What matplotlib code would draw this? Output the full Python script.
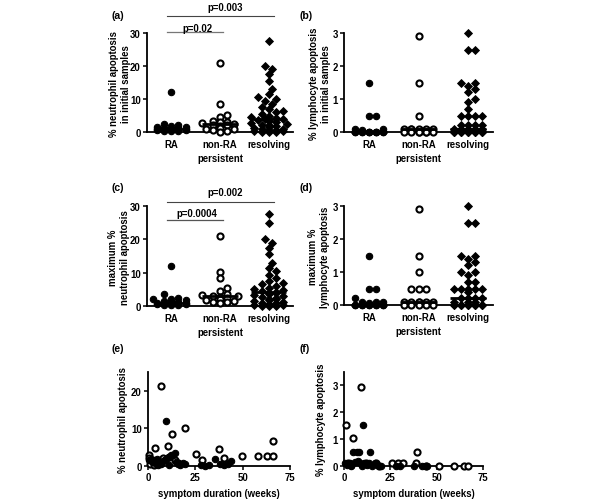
import matplotlib
matplotlib.use('Agg')
import matplotlib.pyplot as plt
import numpy as np

plt.rcParams['font.family'] = ['Liberation Sans', 'DejaVu Sans']
plt.rcParams['font.weight'] = 'bold'

# ---- data -------------------------------------------------------------
groups = ['RA', 'non-RA\npersistent', 'resolving']

# (a) % neutrophil apoptosis, initial samples
ra_neut_init = [12.0, 2.5, 2.0, 1.8, 1.6, 1.5, 1.2, 1.2, 1.0, 1.0, 1.0, 0.8,
                0.8, 0.7, 0.6, 0.5, 0.4, 0.3, 0.2]
nonra_neut_init = [21.0, 8.5, 5.3, 4.6, 3.2, 3.0, 2.9, 2.6, 2.5, 2.2, 2.0,
                   1.8, 1.2, 1.0, 0.8, 0.5, 0.2, 0.1]
res_neut_init = [27.5, 20.0, 19.0, 17.5, 15.5, 13.0, 11.5, 10.5, 10.0, 9.5,
                 8.5, 7.5, 7.0, 6.5, 6.0, 5.5, 5.0, 4.5, 4.2, 4.0, 3.8, 3.5,
                 3.2, 3.0, 2.8, 2.5, 2.2, 2.0, 1.8, 1.5, 1.2, 1.0, 0.8, 0.6,
                 0.5, 0.3, 0.2, 0.1, 0.0, 0.0]

# (b) % lymphocyte apoptosis, initial samples
ra_lymph_init = [1.5, 0.5, 0.5, 0.1, 0.1, 0.05, 0, 0, 0, 0, 0, 0, 0, 0, 0,
                 0, 0, 0]
nonra_lymph_init = [2.9, 1.5, 0.5, 0.1, 0.1, 0.1, 0.1, 0.1, 0.1, 0, 0, 0,
                    0, 0, 0, 0]
res_lymph_init = [3.0, 2.5, 2.5, 1.5, 1.5, 1.4, 1.3, 1.2, 1.0, 0.9, 0.7,
                  0.5, 0.5, 0.5, 0.5, 0.2, 0.2, 0.2, 0.2, 0.1, 0.1, 0.1, 0.1,
                  0.1, 0, 0, 0, 0, 0, 0, 0, 0, 0, 0, 0, 0, 0, 0, 0]

# (c) maximum % neutrophil apoptosis
ra_neut_max = [12.0, 3.5, 2.5, 2.2, 2.0, 1.8, 1.5, 1.2, 1.2, 1.0, 1.0, 0.8,
               0.8, 0.7, 0.6, 0.5, 0.4, 0.3, 0.2]
nonra_neut_max = [21.0, 10.2, 8.5, 5.3, 4.6, 3.5, 3.2, 3.0, 3.0, 2.8, 2.5,
                  2.0, 1.8, 1.5, 1.2, 1.2, 1.0]
res_neut_max = [27.5, 25.0, 20.0, 19.0, 17.5, 15.5, 13.0, 11.5, 10.5, 9.3,
                8.5, 7.5, 7.0, 6.5, 6.0, 5.5, 5.0, 4.8, 4.5, 4.2, 4.0, 3.8,
                3.5, 3.2, 3.0, 2.8, 2.5, 2.2, 2.0, 1.8, 1.5, 1.2, 1.0, 0.8,
                0.5, 0.3, 0.2, 0.1, 0.0, 0.0]

# (d) maximum % lymphocyte apoptosis
ra_lymph_max = [1.5, 0.5, 0.5, 0.2, 0.1, 0.1, 0.1, 0.05, 0, 0, 0, 0, 0, 0,
                0, 0, 0, 0]
nonra_lymph_max = [2.9, 1.5, 1.0, 0.5, 0.5, 0.5, 0.1, 0.1, 0.1, 0.1, 0.1,
                   0.1, 0, 0, 0, 0, 0]
res_lymph_max = [3.0, 2.5, 2.5, 1.5, 1.5, 1.4, 1.3, 1.2, 1.0, 1.0, 0.9, 0.7,
                 0.7, 0.5, 0.5, 0.5, 0.5, 0.5, 0.4, 0.2, 0.2, 0.2, 0.2, 0.1,
                 0.1, 0.1, 0, 0, 0, 0, 0, 0, 0, 0, 0, 0, 0, 0, 0, 0]

# (e) neutrophil apoptosis vs symptom duration
open_e_x = [0.5, 0.7, 1.0, 2.0, 3.0, 3.7, 5.0, 6.7, 8.0, 9.0, 10.7, 11.0,
            12.6, 14.0, 16.0, 19.3, 25.4, 28.4, 37.4, 40.3, 49.5, 58.0,
            62.8, 66.1, 66.1]
open_e_y = [2.9, 2.0, 0.5, 1.2, 0.3, 4.8, 1.0, 21.2, 2.0, 1.5, 5.2, 2.5,
            8.6, 1.5, 0.8, 10.1, 3.2, 1.5, 4.5, 2.0, 2.6, 2.6, 2.6, 2.6, 6.6]
filled_e_x = [0.5, 1.5, 2.5, 3.0, 4.0, 5.0, 5.5, 6.5, 7.0, 8.0, 9.5, 10.0,
              11.0, 12.0, 13.0, 14.2, 15.0, 16.0, 17.0, 18.5, 19.5, 28.0,
              30.0, 32.0, 35.3, 38.0, 40.0, 42.0, 44.0]
filled_e_y = [1.5, 1.8, 1.0, 1.5, 0.5, 1.8, 0.2, 1.0, 0.5, 1.2, 12.0, 2.0,
              0.3, 2.8, 3.0, 3.5, 1.0, 0.5, 0.3, 0.8, 0.5, 0.3, 0.1, 0.3,
              1.9, 0.5, 0.3, 0.6, 1.4]

# (f) lymphocyte apoptosis vs symptom duration
open_f_x = [1.1, 2.0, 4.0, 5.0, 9.0, 12.0, 17.0, 19.0, 26.0, 29.0, 32.0,
            39.0, 39.4, 44.0, 51.0, 59.5, 64.5, 67.0]
open_f_y = [1.54, 0.1, 0.05, 1.03, 2.93, 0.1, 0.1, 0.0, 0.1, 0.1, 0.1, 0.1,
            0.53, 0.0, 0.0, 0.0, 0.0, 0.0]
filled_f_x = [0.5, 1.5, 3.0, 4.0, 5.0, 6.0, 6.8, 7.5, 8.1, 8.5, 9.5, 10.4,
              11.0, 12.5, 13.5, 14.2, 15.0, 16.5, 18.0, 20.0, 28.0, 30.0,
              38.0, 42.0, 44.0, 45.0]
filled_f_y = [0.1, 0.05, 0.1, 0.0, 0.53, 0.15, 0.53, 0.2, 0.53, 0.1, 0.0,
              1.54, 0.1, 0.05, 0.1, 0.53, 0.0, 0.1, 0.05, 0.0, 0.0, 0.0, 0.0,
              0.0, 0.0, 0.0]

# ---- helpers -----------------------------------------------------------
W, H = 600, 502
fig = plt.figure(figsize=(W / 100, H / 100), dpi=100)
FS = 6.9

OPEN = dict(marker='o', mfc='white', mec='k', ms=4.4, mew=1.5)
FILLED = dict(marker='o', mfc='k', mec='k', ms=4.6, mew=0.8)
DIAMOND = dict(marker='D', mfc='k', mec='k', ms=3.7, mew=0.6)


def add_ax(left, top, right, bottom):
    ax = fig.add_axes([left / W, 1 - bottom / H, (right - left) / W,
                       (bottom - top) / H])
    for s in ('top', 'right'):
        ax.spines[s].set_visible(False)
    for s in ('left', 'bottom'):
        ax.spines[s].set_linewidth(1.3)
    ax.tick_params(labelsize=FS, width=1.1, length=3, pad=1.5)
    return ax


def ftext(x, y, s, **kw):
    kw.setdefault('fontsize', FS)
    kw.setdefault('fontweight', 'bold')
    fig.text(x / W, 1 - y / H, s, **kw)


def swarm(values, center, xs, ys, cap=0.42):
    """Greedy beeswarm: xs/ys = marker size in data units."""
    order = np.argsort(values)
    placed = []
    out = np.zeros(len(values))
    for i in order:
        v = values[i]
        best, best_ov = 0.0, None
        for k in range(0, 40):
            off = ((k + 1) // 2) * xs * 0.6 * (1 if k % 2 else -1)
            if abs(off) > cap:
                continue
            ov = 0
            for (px, py) in placed:
                d = ((px - off) / xs) ** 2 + ((py - v) / ys) ** 2
                if d < 1.0:
                    ov += 1
            if ov == 0:
                best = off
                best_ov = 0
                break
            if best_ov is None or ov < best_ov:
                best, best_ov = off, ov
        placed.append((best, v))
        out[i] = center + best
    return out


def column_panel(ax, data, ymax, yticks, px_per_unit, px_per_cat):
    styles = [FILLED, OPEN, DIAMOND]
    xs = 6.0 / px_per_cat
    ys = 5.5 / px_per_unit
    for i, (vals, st) in enumerate(zip(data, styles)):
        vals = np.asarray(vals, dtype=float)
        xpos = swarm(vals, i, xs, ys)
        ax.plot(xpos, vals, ls='none', clip_on=False, zorder=3, **st)
        ax.hlines(np.median(vals), i - 0.36, i + 0.36, color='k', lw=2.0,
                  zorder=4, clip_on=False)
    ax.set_xlim(-0.5, 2.5)
    ax.set_ylim(0, ymax)
    ax.set_yticks(yticks)
    ax.set_xticks(range(3))
    ax.set_xticklabels(groups, fontsize=FS, fontweight='bold',
                       linespacing=1.45)
    ax.tick_params(axis='x', length=0, pad=5)


# ---- panel (a) ---------------------------------------------------------
ax_a = add_ax(147, 34, 293, 133)
column_panel(ax_a, [ra_neut_init, nonra_neut_init, res_neut_init], 30,
             [0, 10, 20, 30], 3.3, 49)
ax_a.plot([-0.08, 1.06], [30.3, 30.3], color='#777777', lw=0.9,
          clip_on=False)
ax_a.plot([-0.08, 2.1], [35.2, 35.2], color='#444444', lw=0.8,
          clip_on=False)
ftext(197, 29, 'p=0.02', ha='center', va='center')
ftext(225, 8, 'p=0.003', ha='center', va='center')
ftext(120, 84, '% neutrophil apoptosis\nin initial samples', rotation=90,
      ha='center', va='center', linespacing=1.15)
ftext(112, 16, '(a)', fontsize=7.6, ha='left', va='center')

# ---- panel (b) ---------------------------------------------------------
ax_b = add_ax(344, 34, 493, 133)
column_panel(ax_b, [ra_lymph_init, nonra_lymph_init, res_lymph_init], 3,
             [0, 1, 2, 3], 33.0, 50)
ftext(320, 84, '% lymphocyte apoptosis\nin initial samples', rotation=90,
      ha='center', va='center', linespacing=1.15)
ftext(300, 16, '(b)', fontsize=7.6, ha='left', va='center')

# ---- panel (c) ---------------------------------------------------------
ax_c = add_ax(147, 207, 293, 307)
column_panel(ax_c, [ra_neut_max, nonra_neut_max, res_neut_max], 30,
             [0, 10, 20, 30], 3.33, 49)
ax_c.plot([-0.08, 1.06], [25.8, 25.8], color='#555555', lw=0.9,
          clip_on=False)
ax_c.plot([-0.08, 2.1], [31.2, 31.2], color='#444444', lw=0.8,
          clip_on=False)
ftext(197, 214, 'p=0.0004', ha='center', va='center')
ftext(225, 193, 'p=0.002', ha='center', va='center')
ftext(119, 258, 'maximum %\nneutrophil apoptosis', rotation=90,
      ha='center', va='center', linespacing=1.15)
ftext(112, 188, '(c)', fontsize=7.6, ha='left', va='center')

# ---- panel (d) ---------------------------------------------------------
ax_d = add_ax(344, 207, 493, 306)
column_panel(ax_d, [ra_lymph_max, nonra_lymph_max, res_lymph_max], 3,
             [0, 1, 2, 3], 33.0, 50)
ftext(319, 257, 'maximum %\nlymphocyte apoptosis', rotation=90,
      ha='center', va='center', linespacing=1.15)
ftext(300, 188, '(d)', fontsize=7.6, ha='left', va='center')

# ---- panel (e) ---------------------------------------------------------
ax_e = add_ax(148, 373, 290, 467)
ax_e.plot(open_e_x, open_e_y, ls='none', clip_on=False, zorder=3, **OPEN)
ax_e.plot(filled_e_x, filled_e_y, ls='none', clip_on=False, zorder=4,
          **FILLED)
ax_e.set_xlim(0, 75)
ax_e.set_ylim(0, 25)
ax_e.set_xticks([0, 25, 50, 75])
ax_e.set_yticks([0, 10, 20])
ax_e.set_xlabel('symptom duration (weeks)', fontsize=FS, fontweight='bold',
                labelpad=4)
ftext(123, 420, '% neutrophil apoptosis', rotation=90, ha='center',
      va='center')
ftext(112, 349, '(e)', fontsize=7.6, ha='left', va='center')

# ---- panel (f) ---------------------------------------------------------
ax_f = add_ax(344, 373, 483, 467)
ax_f.plot(open_f_x, open_f_y, ls='none', clip_on=False, zorder=3, **OPEN)
ax_f.plot(filled_f_x, filled_f_y, ls='none', clip_on=False, zorder=4,
          **FILLED)
ax_f.set_xlim(0, 75)
ax_f.set_ylim(0, 3.5)
ax_f.set_xticks([0, 25, 50, 75])
ax_f.set_yticks([0, 1, 2, 3])
ax_f.set_xlabel('symptom duration (weeks)', fontsize=FS, fontweight='bold',
                labelpad=4)
ftext(321, 420, '% lymphocyte apoptosis', rotation=90, ha='center',
      va='center')
ftext(300, 349, '(f)', fontsize=7.6, ha='left', va='center')

for ax in (ax_a, ax_b, ax_c, ax_d, ax_e, ax_f):
    for lab in ax.get_xticklabels() + ax.get_yticklabels():
        lab.set_fontweight('bold')

fig.savefig('out.png', dpi=100)
